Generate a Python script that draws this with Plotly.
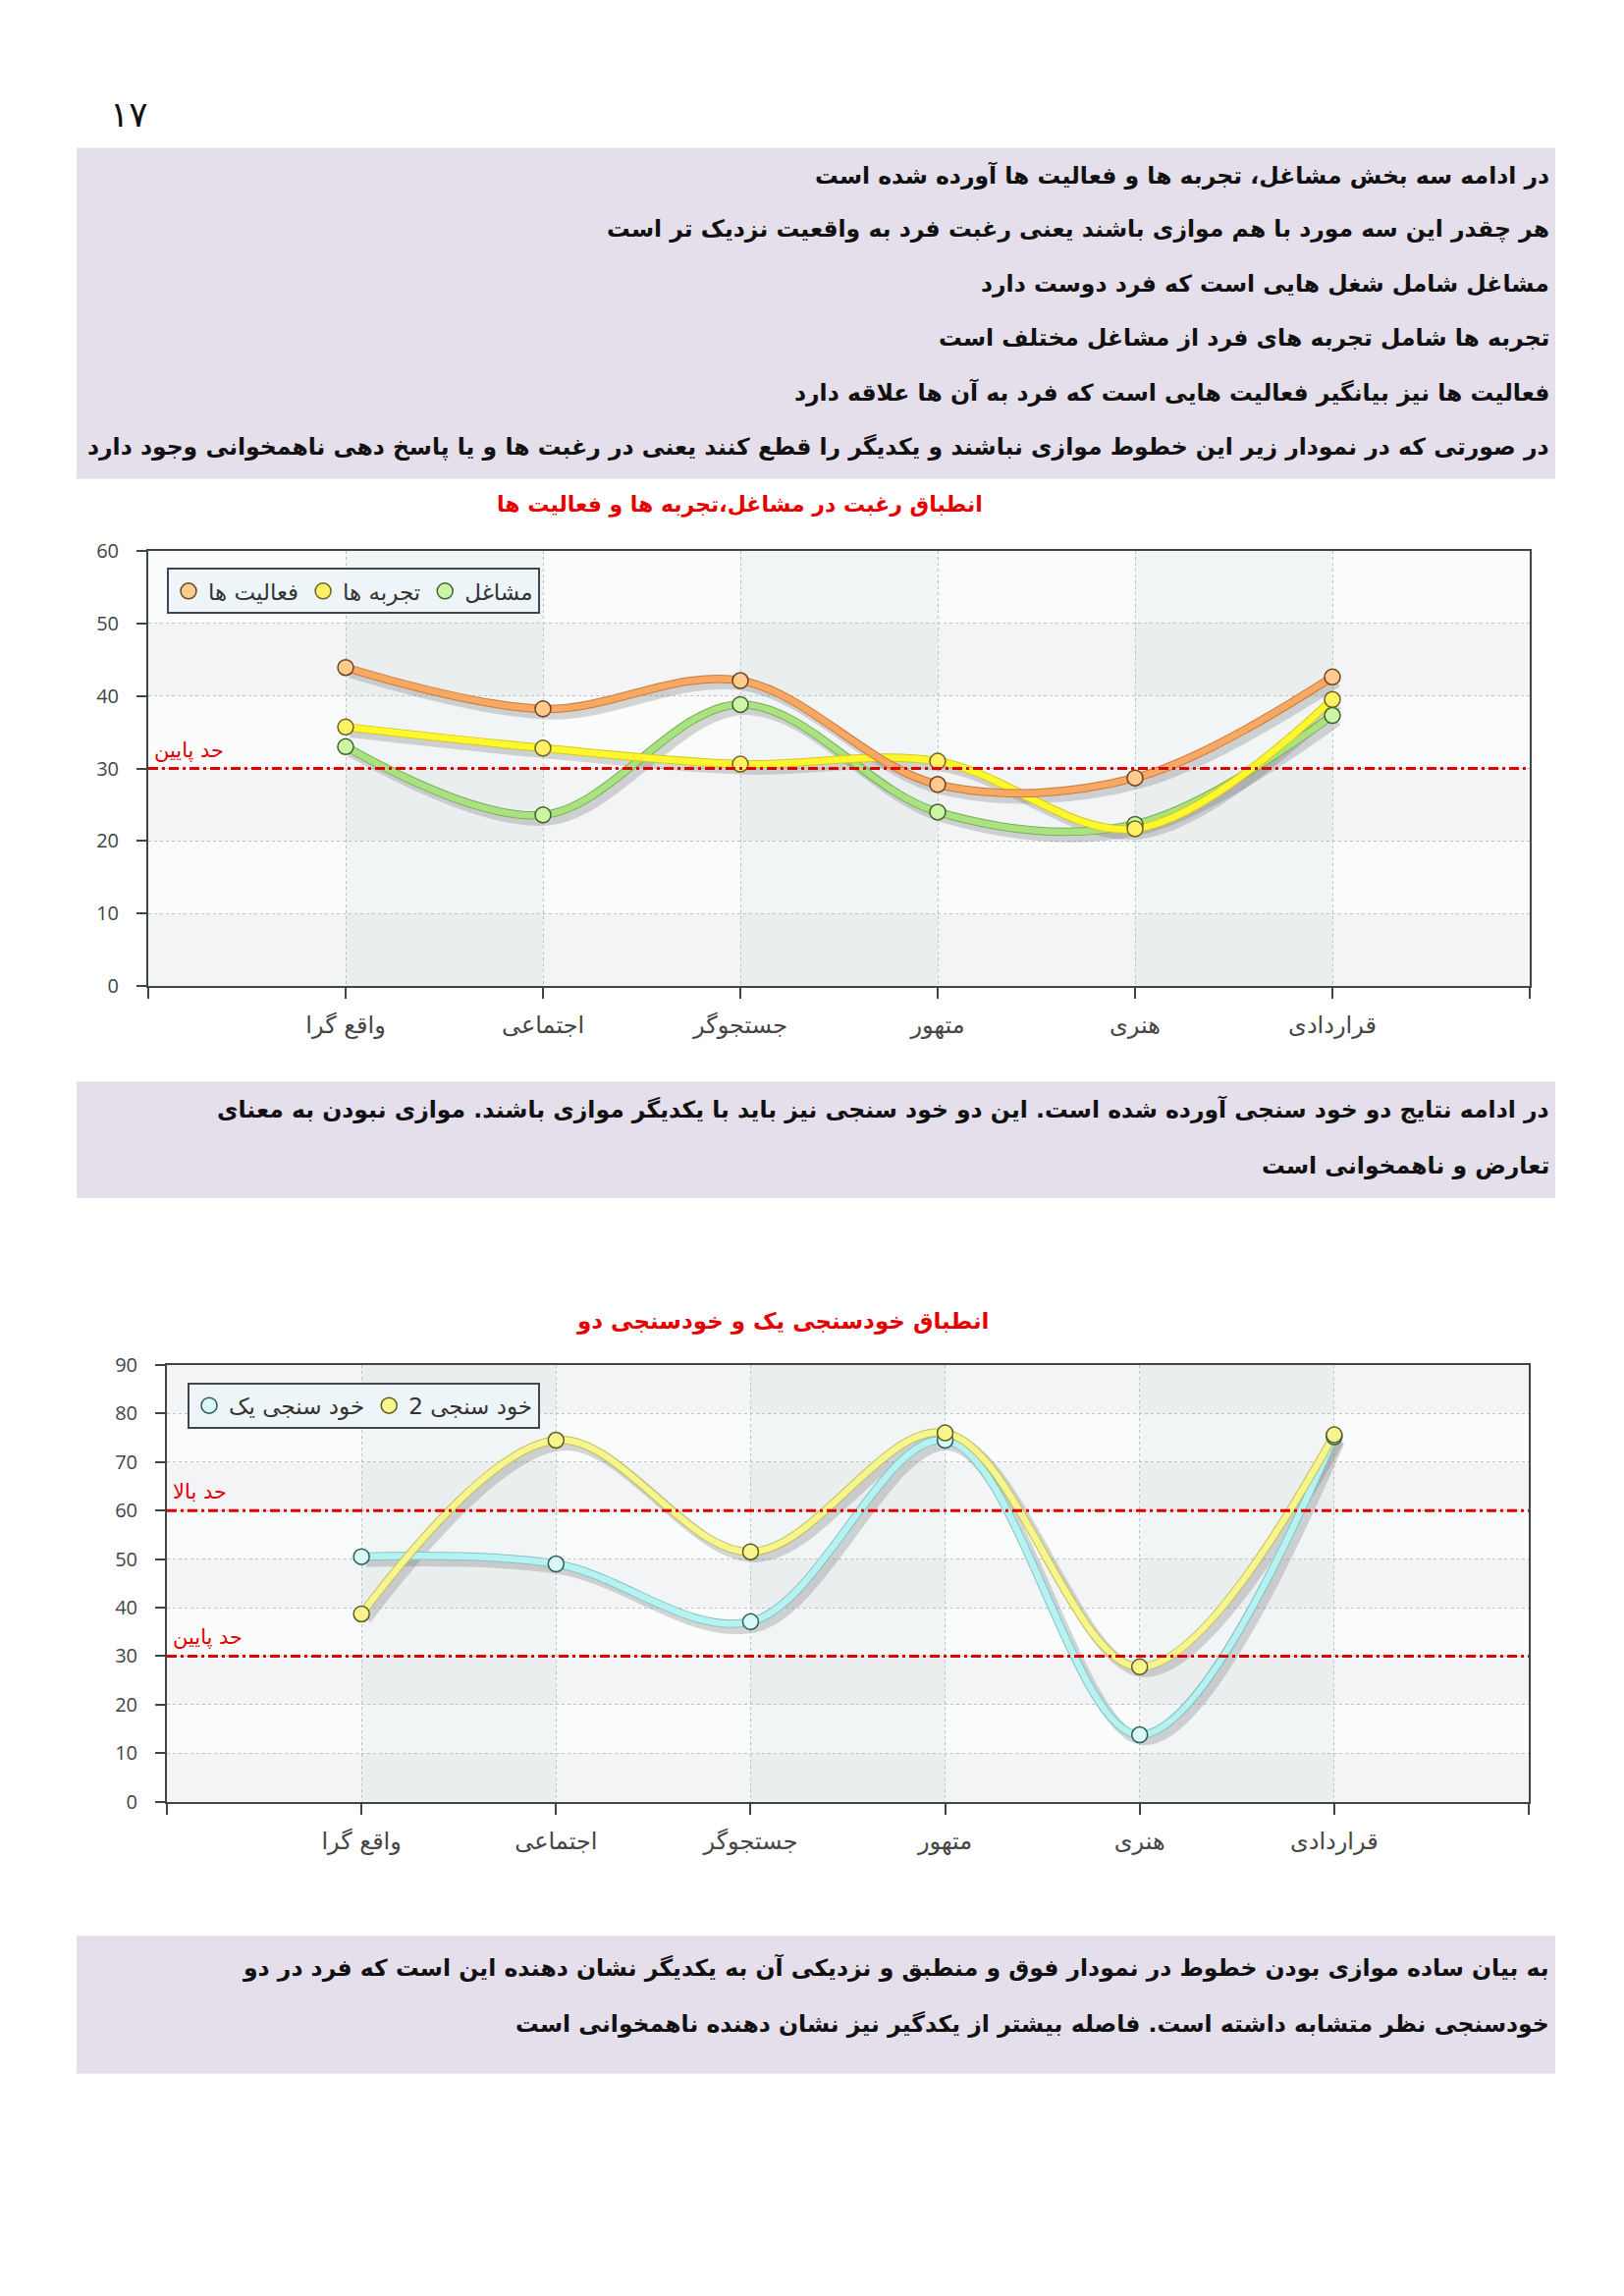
import plotly.graph_objects as go

W, H = 1654, 2338

# ---------------- data ----------------
categories = ["واقع گرا", "اجتماعی", "جستجوگر", "متهور", "هنری", "قراردادی"]

# chart 1
jobs = [33.0, 23.6, 38.8, 24.0, 22.3, 37.3]            # مشاغل
experiences = [35.7, 32.8, 30.6, 31.0, 21.7, 39.5]     # تجربه ها
activities = [43.9, 38.2, 42.1, 27.8, 28.7, 42.6]      # فعالیت ها
chart1_names = ["مشاغل", "تجربه ها", "فعالیت ها"]
chart1_title = "انطباق رغبت در مشاغل،تجربه ها و فعالیت ها"
chart1_lower = 30
chart1_ymax = 60

# chart 2
self_one = [50.5, 49.0, 37.1, 74.5, 13.8, 75.2]        # خود سنجی یک
self_two = [38.7, 74.5, 51.5, 76.0, 27.8, 75.6]        # خود سنجی 2
chart2_names = ["خود سنجی یک", "خود سنجی 2"]
chart2_title = "انطباق خودسنجی یک و خودسنجی دو"
chart2_upper = 60
chart2_lower = 30
chart2_ymax = 90

lower_label = "حد پایین"
upper_label = "حد بالا"
page_number = "۱۷"

box1_lines = [
    "در ادامه سه بخش مشاغل، تجربه ها و فعالیت ها آورده شده است",
    "هر چقدر این سه مورد با هم موازی باشند یعنی رغبت فرد به واقعیت نزدیک تر است",
    "مشاغل شامل شغل هایی است که فرد دوست دارد",
    "تجربه ها شامل تجربه های فرد از مشاغل مختلف است",
    "فعالیت ها نیز بیانگیر فعالیت هایی است که فرد به آن ها علاقه دارد",
    "در صورتی که در نمودار زیر این خطوط موازی نباشند و یکدیگر را قطع کنند یعنی در رغبت ها و یا پاسخ دهی ناهمخوانی وجود دارد",
]
box2_lines = [
    "در ادامه نتایج دو خود سنجی آورده شده است. این دو خود سنجی نیز باید با یکدیگر موازی باشند. موازی نبودن به معنای",
    "تعارض و ناهمخوانی است",
]
box3_lines = [
    "به بیان ساده موازی بودن خطوط در نمودار فوق و منطبق و نزدیکی آن به یکدیگر نشان دهنده این است که فرد در دو",
    "خودسنجی نظر متشابه داشته است. فاصله بیشتر از یکدگیر نیز نشان دهنده ناهمخوانی است",
]

# ---------------- helpers ----------------
def px(x):
    return x / W

def py(y):
    return 1 - y / H

AR_FONT = "DejaVu Sans"
NUM_FONT = "Open Sans, DejaVu Sans, sans-serif"

fig = go.Figure()
xs = list(range(1, len(categories) + 1))

def add_chart(series, names, styles, xa, ya, legend_id, ranks, shadow_dy):
    # shadows
    for vals in series:
        fig.add_trace(go.Scatter(
            x=[v + 0.025 for v in xs], y=[v - shadow_dy for v in vals],
            mode="lines", line=dict(color="rgba(110,110,110,0.28)", width=11, shape="spline"),
            xaxis=xa, yaxis=ya, showlegend=False, hoverinfo="skip"))
    # lines (edge + main)
    for vals, st in zip(series, styles):
        fig.add_trace(go.Scatter(
            x=xs, y=vals, mode="lines",
            line=dict(color=st["edge"], width=8.5, shape="spline"),
            xaxis=xa, yaxis=ya, showlegend=False, hoverinfo="skip"))
        fig.add_trace(go.Scatter(
            x=xs, y=vals, mode="lines",
            line=dict(color=st["line"], width=6.5, shape="spline"),
            xaxis=xa, yaxis=ya, showlegend=False, hoverinfo="skip"))
    # markers (also legend entries)
    for vals, name, st, rk in zip(series, names, styles, ranks):
        fig.add_trace(go.Scatter(
            x=xs, y=vals, mode="markers", name=name,
            marker=dict(symbol="circle", size=16, color=st["fill"],
                        line=dict(color=st["outline"], width=1.5)),
            xaxis=xa, yaxis=ya, legend=legend_id, legendrank=rk))

styles1 = [
    dict(line="#A9E27F", edge="#79AE58", fill="#CDF5A6", outline="#40602A"),   # green
    dict(line="#FFF72E", edge="#D6C820", fill="#FFF066", outline="#6E6020"),   # yellow
    dict(line="#F7A863", edge="#CC7A3A", fill="#FFCB8E", outline="#6E4020"),   # orange
]
add_chart([jobs, experiences, activities], chart1_names, styles1, "x", "y",
          "legend", [3, 2, 1], 0.7)

styles2 = [
    dict(line="#B6F2F2", edge="#86C4C4", fill="#D9F8F8", outline="#2E5A5A"),   # cyan
    dict(line="#F6F58E", edge="#C0BE5A", fill="#F8F48E", outline="#5E5A20"),   # yellow
]
add_chart([self_one, self_two], chart2_names, styles2, "x2", "y2",
          "legend2", [1, 2], 1.05)

# ---------------- axes ----------------
def xaxis_cfg(dom):
    return dict(
        domain=dom, range=[0, len(categories) + 1],
        tickmode="array", tickvals=list(range(0, len(categories) + 2)),
        ticktext=[""] + categories + [""],
        ticks="outside", ticklen=11, tickwidth=1.5, tickcolor="#3F4447",
        ticklabelstandoff=6,
        tickfont=dict(family=AR_FONT, size=24, color="#454545"),
        showgrid=True, gridcolor="#BEC2C4", griddash="dot", gridwidth=1,
        showline=True, linecolor="#3F4447", linewidth=2, mirror=True,
        zeroline=False, fixedrange=True)

def yaxis_cfg(dom, ymax, anchor):
    return dict(
        domain=dom, range=[0, ymax], dtick=10, anchor=anchor,
        ticks="outside", ticklen=10, tickwidth=1.5, tickcolor="#3F4447",
        ticklabelstandoff=14,
        tickfont=dict(family=NUM_FONT, size=20, color="#3F4447"),
        showgrid=True, gridcolor="#BEC2C4", griddash="dot", gridwidth=1,
        showline=True, linecolor="#3F4447", linewidth=2, mirror=True,
        zeroline=False, fixedrange=True)

c1 = dict(x0=151, x1=1558, y0=553, y1=1002)
c2 = dict(x0=170, x1=1557, y0=1392, y1=1842)

leg_common = dict(xanchor="left", yanchor="top", orientation="h",
                  bgcolor="#EDF5F8", bordercolor="#41464A", borderwidth=2,
                  font=dict(family=AR_FONT, size=23, color="#333"),
                  itemwidth=30, tracegroupgap=0)

fig.update_layout(
    width=W, height=H, margin=dict(l=0, r=0, t=0, b=0),
    paper_bgcolor="white", plot_bgcolor="#FAFCFC",
    xaxis=dict(xaxis_cfg([px(c1["x0"]), px(c1["x1"])]), anchor="y"),
    yaxis=yaxis_cfg([py(c1["y1"]), py(c1["y0"])], chart1_ymax, "x"),
    xaxis2=dict(xaxis_cfg([px(c2["x0"]), px(c2["x1"])]), anchor="y2"),
    yaxis2=yaxis_cfg([py(c2["y1"]), py(c2["y0"])], chart2_ymax, "x2"),
    legend=dict(leg_common, x=px(170), y=py(571)),
    legend2=dict(leg_common, x=px(191), y=py(1410)),
    hovermode=False,
)

shapes = []
annotations = []

# lavender text boxes
for (y0, y1) in [(138, 479), (1100, 1220), (1980, 2122)]:
    shapes.append(dict(type="rect", xref="paper", yref="paper",
                       x0=px(78), x1=px(1584), y0=py(y1), y1=py(y0),
                       fillcolor="#E5DFEC", line=dict(width=0), layer="below"))

# plot banding
for xa, ya, ymax in [("x", "y", chart1_ymax), ("x2", "y2", chart2_ymax)]:
    for b in range(0, ymax, 20):
        shapes.append(dict(type="rect", xref=f"{xa} domain", yref=ya,
                           x0=0, x1=1, y0=b, y1=b + 10,
                           fillcolor="rgba(200,208,212,0.17)", line=dict(width=0), layer="below"))
    for c in range(1, len(categories) + 1, 2):
        shapes.append(dict(type="rect", xref=xa, yref=f"{ya} domain",
                           x0=c, x1=c + 1, y0=0, y1=1,
                           fillcolor="rgba(195,203,207,0.14)", line=dict(width=0), layer="below"))

# threshold lines + labels
red_dash = "10px,4px,3px,4px"
for xa, ya, val, lab in [("x", "y", chart1_lower, lower_label),
                         ("x2", "y2", chart2_upper, upper_label),
                         ("x2", "y2", chart2_lower, lower_label)]:
    shapes.append(dict(type="line", xref=f"{xa} domain", yref=ya, x0=0, x1=1,
                       y0=val, y1=val, line=dict(color="#E00000", width=3, dash=red_dash),
                       layer="above"))
    annotations.append(dict(xref=f"{xa} domain", yref=ya, x=0.003, y=val,
                            xanchor="left", yanchor="bottom", yshift=5,
                            text=lab, showarrow=False,
                            font=dict(family=AR_FONT, size=21, color="#E00000")))

# chart titles
annotations.append(dict(xref="paper", yref="paper", x=px(753), y=py(506),
                        xanchor="center", yanchor="middle", showarrow=False,
                        text=f"<b>{chart1_title}</b>",
                        font=dict(family=AR_FONT, size=22, color="#E60000")))
annotations.append(dict(xref="paper", yref="paper", x=px(797), y=py(1347),
                        xanchor="center", yanchor="middle", showarrow=False,
                        text=f"<b>{chart2_title}</b>",
                        font=dict(family=AR_FONT, size=23, color="#E60000")))

# page number
annotations.append(dict(xref="paper", yref="paper", x=px(131), y=py(104),
                        xanchor="center", yanchor="middle", showarrow=False,
                        text=page_number,
                        font=dict(family=AR_FONT, size=36, color="#111")))

# paragraph texts
def add_lines(lines, ys):
    for t, yy in zip(lines, ys):
        annotations.append(dict(xref="paper", yref="paper", x=px(1580), y=py(yy),
                                xanchor="right", yanchor="middle", showarrow=False,
                                text=f"<b>{t}</b>",
                                font=dict(family=AR_FONT, size=23.5, color="#111")))

add_lines(box1_lines, [166 + 56 * i for i in range(len(box1_lines))])
add_lines(box2_lines, [1129, 1187])
add_lines(box3_lines, [2013, 2071])

fig.update_layout(shapes=shapes, annotations=annotations)

fig.write_html("out.html", config={"displayModeBar": False},
               post_script="document.body.style.margin='0';document.body.style.overflow='hidden';")
